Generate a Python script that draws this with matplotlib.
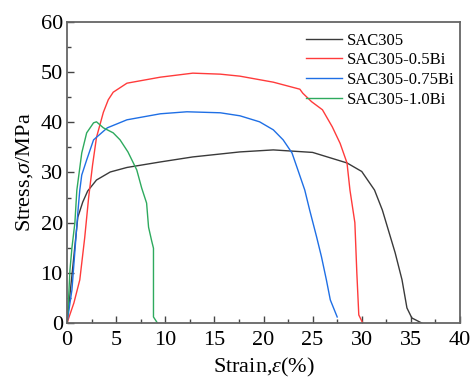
import matplotlib
matplotlib.use('Agg')
import matplotlib.pyplot as plt
from matplotlib.ticker import MultipleLocator

plt.rcParams['font.family'] = ['Liberation Serif', 'DejaVu Serif']
plt.rcParams['mathtext.fontset'] = 'custom'
plt.rcParams['mathtext.it'] = 'Liberation Serif:italic'
plt.rcParams['mathtext.rm'] = 'Liberation Serif'

# stress-strain curves (strain %, stress MPa)
sac305_x = [0, 0.5, 1.1, 1.6, 2.1, 3.0, 4.4, 6.1, 9.5, 12.8, 17.6, 21.0, 25.0, 28.5,
            30.0, 31.3, 32.1, 33.4, 34.1, 34.6, 35.1, 36.1]
sac305_y = [0, 9.5, 21.1, 24.1, 26.3, 28.5, 30.1, 31.0, 32.1, 33.1, 34.1, 34.5, 34.0, 31.9,
            30.2, 26.5, 22.5, 14.0, 8.6, 3.0, 1.0, 0]

bi05_x = [0, 0.7, 1.3, 1.8, 2.2, 2.6, 3.0, 3.7, 4.2, 4.7, 6.1, 9.5, 12.8, 15.6, 17.6,
          21.0, 23.7, 24.0, 24.9, 26.0, 27.0, 27.8, 28.5, 28.8, 29.3, 29.5, 29.7, 30.1]
bi05_y = [0, 4.0, 8.6, 17.0, 25.0, 31.5, 37.0, 42.0, 44.5, 46.0, 47.8, 49.0, 49.8, 49.6, 49.2,
          48.0, 46.6, 45.8, 44.1, 42.5, 39.1, 35.8, 31.9, 26.5, 20.0, 10.0, 1.6, 0]

bi075_x = [0, 0.5, 1.1, 1.3, 1.5, 2.0, 2.7, 4.1, 6.1, 9.5, 12.2, 15.6, 17.6, 19.6, 21.0,
           22.0, 22.9, 23.5, 24.2, 24.7, 25.4, 25.9, 26.4, 26.8, 27.5]
bi075_y = [0, 6.6, 22.0, 26.5, 29.5, 32.5, 36.5, 38.9, 40.5, 41.7, 42.1, 41.9, 41.3, 40.1, 38.5,
           36.5, 33.9, 30.5, 26.5, 22.5, 17.2, 13.2, 8.6, 4.6, 1.2]

bi10_x = [0, 0.15, 0.3, 0.5, 0.8, 1.0, 1.5, 2.0, 2.7, 3.0, 3.35, 3.7, 4.7, 5.4, 6.2, 7.1,
          7.6, 8.1, 8.3, 8.6, 8.8, 8.8, 9.2]
bi10_y = [0, 4.6, 10.6, 15.0, 20.0, 26.5, 33.9, 37.9, 39.9, 40.1, 39.5, 38.9, 37.9, 36.5, 34.1,
          30.5, 26.9, 23.9, 19.1, 16.5, 14.9, 1.2, 0]

labels = ['SAC305', 'SAC305-0.5Bi', 'SAC305-0.75Bi', 'SAC305-1.0Bi']
colors = ['#3a3a3a', '#ff3b3b', '#1f6fe5', '#2eaa5e']

fig = plt.figure(figsize=(4.71, 3.79), dpi=100)
ax = fig.add_axes([0.1423, 0.1478, 0.8343, 0.7942])

curves = [(sac305_x, sac305_y), (bi05_x, bi05_y), (bi075_x, bi075_y), (bi10_x, bi10_y)]
for (x, y), lab, c in zip(curves, labels, colors):
    ax.plot(x, y, color=c, lw=1.0, label=lab)

ax.set_xlim(0, 40)
ax.set_ylim(0, 60)
ax.xaxis.set_major_locator(MultipleLocator(5))
ax.xaxis.set_minor_locator(MultipleLocator(2.5))
ax.yaxis.set_major_locator(MultipleLocator(10))
ax.yaxis.set_minor_locator(MultipleLocator(5))
ax.tick_params(which='both', direction='in', top=False, right=False,
               labelsize=16, color='#444444', width=1.0, pad=3)
ax.tick_params(axis='x', which='major', pad=6)
ax.tick_params(which='major', length=5)
ax.tick_params(which='minor', length=3)
for s in ax.spines.values():
    s.set_color('#666666')
    s.set_linewidth(1.3)

ax.set_xlabel(r'Strain,$\varepsilon$(%)', fontsize=16, labelpad=4)
ax.set_ylabel(r'Stress,$\sigma$/MPa', fontsize=16, labelpad=4)

ax.legend(loc='upper right', bbox_to_anchor=(1.01, 0.995), frameon=False, fontsize=12,
          handlelength=2.15, handletextpad=0.3, labelspacing=0.22, borderaxespad=0.15)

fig.savefig('out.png', dpi=100)
